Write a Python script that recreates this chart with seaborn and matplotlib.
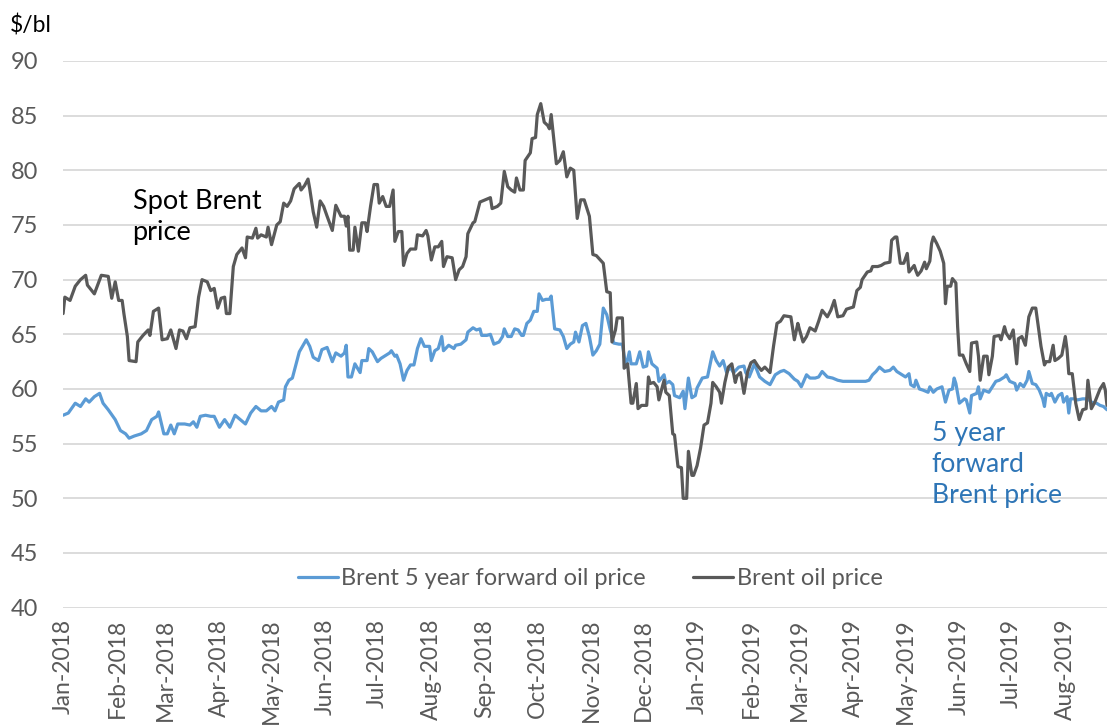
import pandas as pd
import matplotlib.pyplot as plt
import matplotlib.dates as mdates
import seaborn as sns

start = pd.Timestamp('2018-01-01')

# Brent spot price: day offset from 1 Jan 2018, $/bl
spot_days = [0, 1, 4, 7, 10, 13, 14, 18, 22, 26, 28, 30, 32, 34, 35, 37, 38, 42, 43, 46,
             49, 50, 52, 55, 57, 60, 62, 65, 67, 69, 71, 73, 76, 78, 80, 83, 85, 87, 89, 91,
             93, 94, 96, 98, 100, 103, 105, 106, 109, 111, 112, 114, 117, 118, 120, 123, 125, 127, 129, 131,
             133, 136, 137, 139, 141, 142, 144, 146, 148, 150, 152, 155, 157, 160, 162, 163, 164, 165, 167, 168,
             170, 172, 174, 175, 177, 179, 181, 182, 184, 186, 188, 190, 191, 193, 195, 196, 198, 200, 203, 204,
             207, 209, 210, 212, 214, 216, 218, 219, 221, 224, 226, 228, 230, 232, 233, 236, 237, 238, 240, 243,
             246, 247, 250, 252, 254, 256, 258, 260, 261, 263, 265, 266, 269, 270, 272, 273, 275, 277, 279, 280,
             281, 284, 286, 288, 290, 292, 294, 296, 298, 300, 303, 305, 307, 311, 313, 315, 316, 318, 319, 322,
             323, 325, 327, 328, 330, 331, 333, 336, 337, 338, 340, 342, 343, 346, 347, 349, 351, 352, 354, 356,
             357, 359, 360, 362, 363, 365, 367, 369, 371, 373, 374, 376, 378, 379, 381, 383, 385, 387, 388, 390,
             392, 394, 396, 398, 400, 402, 404, 407, 409, 411, 413, 415, 419, 421, 423, 424, 426, 428, 430, 433,
             435, 437, 440, 442, 444, 446, 449, 451, 455, 457, 459, 460, 463, 465, 466, 469, 471, 473, 476, 477,
             479, 480, 482, 484, 486, 487, 490, 491, 492, 494, 496, 497, 499, 500, 501, 503, 505, 507, 508, 509,
             511, 512, 514, 515, 516, 518, 520, 522, 523, 526, 527, 528, 530, 532, 533, 535, 536, 539, 540, 542,
             543, 545, 547, 549, 550, 552, 554, 556, 558, 560, 562, 563, 565, 566, 568, 570, 571, 573, 575, 577,
             578, 579, 581, 583, 585, 587, 589, 590, 592, 594, 597, 599, 600, 601]
spot_vals = [66.9, 68.4, 68.1, 69.4, 70.0, 70.4, 69.5, 68.7, 70.4, 70.3, 68.3, 69.8, 68.1, 68.1, 66.9, 64.8, 62.6, 62.5, 64.3, 64.9,
             65.4, 64.9, 67.1, 67.4, 64.5, 64.6, 65.4, 63.7, 65.4, 65.3, 64.6, 65.6, 65.7, 68.4, 70.0, 69.8, 69.0, 69.2, 67.4, 68.3,
             68.4, 66.9, 66.9, 71.2, 72.3, 72.9, 72.0, 73.9, 73.8, 74.7, 73.8, 74.1, 73.9, 74.8, 73.2, 75.0, 75.3, 77.0, 76.7, 77.2,
             78.3, 78.8, 78.2, 78.6, 79.2, 78.3, 76.2, 74.8, 77.2, 76.7, 75.8, 74.5, 76.8, 75.8, 75.8, 74.9, 75.8, 72.7, 72.7, 74.8,
             72.6, 75.2, 75.2, 74.4, 76.7, 78.7, 78.7, 77.0, 77.6, 76.7, 76.7, 78.2, 73.5, 74.4, 74.4, 71.3, 72.4, 72.8, 72.8, 74.1,
             74.0, 74.5, 74.0, 71.8, 73.0, 73.0, 73.5, 71.2, 72.1, 72.0, 70.0, 70.9, 71.2, 72.1, 74.2, 75.2, 75.3, 75.9, 77.1, 77.3,
             77.5, 76.5, 76.7, 77.0, 79.9, 78.5, 78.2, 78.0, 79.3, 78.2, 78.2, 80.9, 81.6, 82.9, 83.0, 85.1, 86.1, 84.4, 84.1, 83.8,
             85.1, 80.6, 80.9, 81.7, 79.4, 80.2, 80.0, 75.6, 77.3, 77.3, 75.8, 72.3, 72.2, 71.5, 68.9, 68.8, 64.3, 65.4, 66.5, 66.5,
             61.9, 62.3, 58.7, 58.7, 60.5, 58.2, 58.5, 58.5, 61.1, 60.5, 60.6, 60.2, 59.0, 60.8, 59.7, 59.4, 55.9, 55.8, 52.9, 52.8,
             50.0, 50.0, 54.3, 52.1, 52.1, 53.0, 54.6, 56.7, 56.9, 58.7, 60.6, 60.2, 59.7, 58.7, 60.6, 62.0, 62.3, 60.6, 61.2, 61.5,
             59.6, 61.5, 62.4, 62.6, 62.1, 61.7, 62.0, 61.5, 63.9, 66.0, 66.2, 66.7, 66.6, 64.5, 66.0, 65.4, 64.3, 64.8, 65.6, 65.3,
             66.2, 67.2, 66.6, 67.2, 68.1, 66.6, 66.7, 67.3, 67.5, 69.0, 69.3, 70.0, 70.7, 70.8, 71.2, 71.2, 71.3, 71.5, 71.6, 73.6,
             73.9, 73.9, 71.5, 71.5, 72.4, 70.7, 71.3, 70.8, 70.4, 70.8, 71.6, 71.0, 71.7, 73.3, 73.9, 73.3, 72.6, 71.5, 67.8, 69.4,
             69.4, 70.1, 69.7, 65.7, 63.1, 63.1, 62.3, 61.6, 64.2, 64.3, 63.0, 60.8, 63.0, 63.0, 61.3, 63.0, 64.8, 64.9, 64.5, 65.7,
             65.1, 64.6, 65.4, 62.3, 64.6, 64.8, 64.0, 66.6, 67.4, 67.4, 65.1, 63.9, 62.2, 62.5, 62.5, 64.0, 62.6, 62.8, 63.1, 64.8,
             63.6, 61.4, 61.4, 58.7, 57.2, 58.1, 58.2, 60.8, 58.2, 58.8, 60.0, 60.5, 59.9, 58.5]

# Brent 5 year forward price
fwd_days = [0, 3, 7, 10, 13, 15, 18, 21, 23, 26, 30, 33, 36, 38, 41, 45, 48, 51, 54, 55,
            58, 60, 62, 64, 66, 70, 73, 75, 77, 79, 82, 85, 87, 90, 93, 96, 99, 102, 105, 108,
            111, 114, 117, 120, 122, 124, 127, 128, 130, 132, 134, 136, 140, 142, 144, 147, 149, 152, 155, 157,
            160, 162, 163, 164, 166, 168, 171, 172, 175, 176, 178, 181, 183, 186, 188, 189, 191, 192, 194, 196,
            198, 200, 202, 204, 206, 208, 211, 212, 214, 216, 218, 219, 222, 225, 226, 229, 232, 233, 236, 238,
            240, 241, 244, 246, 248, 251, 253, 254, 256, 258, 260, 262, 264, 265, 267, 269, 271, 273, 274, 276,
            278, 280, 281, 283, 286, 288, 290, 292, 294, 295, 297, 299, 301, 303, 305, 307, 309, 311, 313, 315,
            317, 320, 322, 324, 326, 327, 330, 332, 334, 336, 337, 339, 342, 343, 346, 347, 349, 351, 352, 355,
            357, 358, 360, 362, 364, 365, 368, 371, 374, 376, 378, 380, 382, 384, 386, 389, 392, 393, 395, 398,
            399, 401, 404, 407, 410, 413, 415, 418, 421, 423, 425, 428, 430, 433, 435, 437, 440, 443, 446, 449,
            452, 455, 458, 462, 464, 466, 468, 470, 473, 476, 478, 480, 483, 485, 487, 488, 490, 491, 493, 495,
            498, 499, 501, 503, 506, 508, 510, 512, 513, 514, 516, 519, 520, 522, 523, 526, 527, 528, 530, 533,
            535, 537, 539, 542, 543, 545, 548, 549, 551, 553, 555, 556, 558, 560, 562, 564, 565, 566, 568, 569,
            571, 573, 575, 576, 578, 579, 580, 582, 584, 587, 590, 592, 595, 597, 599, 601]
fwd_vals = [57.6, 57.8, 58.7, 58.4, 59.1, 58.8, 59.3, 59.6, 58.7, 58.1, 57.2, 56.2, 55.9, 55.5, 55.7, 55.9, 56.2, 57.2, 57.5, 57.9,
            55.9, 55.9, 56.7, 55.9, 56.8, 56.8, 56.7, 57.0, 56.5, 57.5, 57.6, 57.5, 57.5, 56.5, 57.2, 56.5, 57.6, 57.2, 56.8, 57.8,
            58.4, 58.0, 58.0, 58.4, 58.0, 58.8, 59.0, 60.2, 60.8, 61.0, 62.2, 63.4, 64.5, 63.9, 62.9, 62.6, 63.6, 63.8, 62.5, 63.3,
            63.0, 63.3, 64.0, 61.1, 61.1, 62.3, 61.5, 62.6, 62.6, 63.7, 63.4, 62.5, 62.8, 63.1, 63.3, 63.5, 63.0, 63.1, 62.3, 60.8,
            61.7, 62.2, 62.2, 63.7, 64.6, 63.9, 63.9, 62.6, 63.5, 63.7, 64.8, 63.5, 64.0, 63.7, 64.0, 64.1, 64.5, 65.2, 65.6, 65.4,
            65.5, 64.9, 64.9, 65.0, 64.1, 64.3, 64.8, 65.5, 64.8, 64.8, 65.5, 65.4, 64.9, 64.9, 66.0, 66.3, 67.1, 67.1, 68.7, 68.1,
            68.2, 68.2, 68.5, 65.5, 65.4, 64.8, 63.7, 64.1, 64.3, 65.2, 64.3, 65.8, 66.0, 64.8, 63.1, 63.5, 64.1, 67.4, 66.8, 65.4,
            64.2, 64.1, 64.1, 62.0, 63.4, 62.3, 62.3, 63.4, 62.0, 62.1, 63.4, 62.3, 61.9, 60.7, 61.3, 60.5, 60.7, 60.4, 59.4, 59.2,
            59.8, 58.2, 61.0, 59.2, 59.4, 60.1, 61.0, 61.1, 63.4, 62.6, 62.1, 62.6, 61.5, 62.0, 61.5, 62.0, 62.1, 61.5, 61.1, 62.3,
            61.9, 61.1, 60.7, 60.4, 61.3, 61.6, 61.7, 61.4, 60.9, 60.7, 60.2, 61.3, 61.0, 61.0, 61.1, 61.6, 61.1, 61.0, 60.8, 60.7,
            60.7, 60.7, 60.7, 60.7, 60.8, 61.3, 61.6, 62.0, 61.6, 61.7, 62.0, 61.6, 61.3, 61.1, 61.4, 60.4, 60.2, 60.8, 60.0, 59.9,
            59.7, 60.2, 59.7, 60.0, 60.2, 58.8, 59.9, 60.0, 61.0, 60.5, 58.7, 59.1, 59.0, 57.8, 59.4, 59.6, 60.2, 59.1, 59.9, 59.7,
            60.2, 60.7, 60.8, 61.1, 61.3, 60.7, 60.5, 59.9, 60.5, 60.2, 60.8, 61.6, 60.5, 60.4, 59.9, 59.1, 58.4, 59.6, 59.4, 59.6,
            58.8, 59.4, 59.6, 58.8, 59.3, 57.8, 59.1, 59.1, 59.0, 59.1, 59.1, 58.8, 58.7, 58.5, 58.4, 58.1]

fwd_name = 'Brent 5 year forward oil price'
spot_name = 'Brent oil price'

df = pd.concat([
    pd.DataFrame({'date': start + pd.to_timedelta(fwd_days, unit='D'), 'price': fwd_vals, 'series': fwd_name}),
    pd.DataFrame({'date': start + pd.to_timedelta(spot_days, unit='D'), 'price': spot_vals, 'series': spot_name}),
], ignore_index=True)

sns.set_style('white')
plt.rcParams['font.family'] = ['Lato', 'DejaVu Sans']

fig = plt.figure(figsize=(11.07, 7.26), dpi=100)
ax = fig.add_axes([0.057, 0.163, 0.943, 0.753])

sns.lineplot(data=df, x='date', y='price', hue='series', ax=ax,
             palette={fwd_name: '#5B9BD5', spot_name: '#595959'}, linewidth=2.3)

ax.set_ylim(40, 90)
ax.set_yticks(range(40, 91, 5))
ax.set_xlim(df['date'].min(), df['date'].max())
ax.xaxis.set_major_locator(mdates.MonthLocator())
ax.xaxis.set_major_formatter(mdates.DateFormatter('%b-%Y'))
ax.tick_params(axis='x', labelrotation=90, labelsize=16.5, colors='#595959', length=0, pad=8)
ax.tick_params(axis='y', labelsize=17, colors='#595959', length=0, pad=18)
ax.grid(axis='y', color='#D9D9D9', linewidth=1.3)
ax.set_axisbelow(True)
for s in ax.spines.values():
    s.set_visible(False)
ax.set_xlabel('')
ax.set_ylabel('')

fig.text(0.009, 0.965, '$/bl', fontsize=16.5, color='black', va='center', ha='left')

ax.text(pd.Timestamp('2018-02-10'), 75.7, 'Spot Brent\nprice', fontsize=19.5, color='black',
        va='center', ha='left', linespacing=1.3)
ax.text(pd.Timestamp('2019-05-16'), 53.1, '5 year\nforward\nBrent price', fontsize=19.2, color='#2E75B6',
        va='center', ha='left', linespacing=1.3)

leg = ax.legend(loc='center', bbox_to_anchor=(0.505, 0.053), ncol=2, frameon=False,
                fontsize=17, handlelength=1.7, handletextpad=0.15, columnspacing=2.0)
for t in leg.get_texts():
    t.set_color('#595959')

fig.savefig('out.png', dpi=100)
